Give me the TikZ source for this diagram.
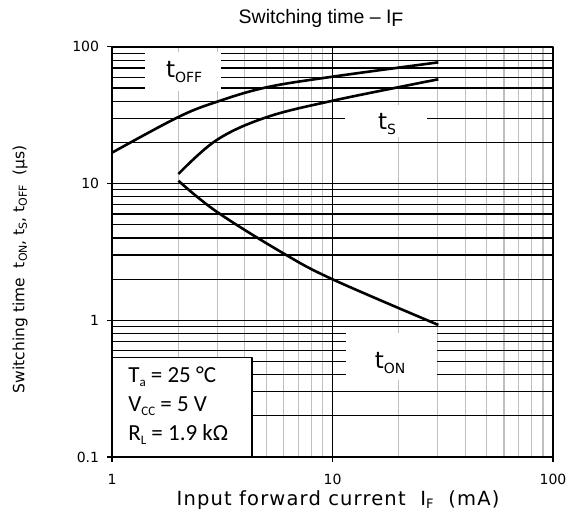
\documentclass[tikz,border=0pt]{standalone}
\usepackage{fontspec}
\usepackage{tikz}
\usetikzlibrary{calc}
\setmainfont{DejaVu Sans}
\newfontfamily\titlefont{Liberation Sans}
\newfontfamily\legfont{Carlito}
\newfontfamily\xlabfont[LetterSpace=6]{DejaVu Sans}
\newcommand{\tlab}[1]{{\fontsize{23}{23}\selectfont t\raisebox{-0.45ex}{\fontsize{14}{14}\selectfont #1}}}
\begin{document}
\begin{tikzpicture}[line cap=butt,line join=round,x=220.5pt,y=136.7pt,
  gridv/.style={line width=1.2pt,color=black!25},
  gridh/.style={line width=1.2pt,color=black},
  curve/.style={line width=2.6pt,color=black},
  ticklab/.style={font=\fontsize{14}{14}\selectfont}]
\useasboundingbox (-112pt,-69pt) rectangle (465pt,457pt);
% grid
\foreach \d in {0,1}
\foreach \m in {2,...,9}
\draw[gridv] ({\d+log10(\m)},0) -- ({\d+log10(\m)},3);
\foreach \d in {0,1,2}
\foreach \m in {2,...,9}
\draw[gridh] (0,{\d+log10(\m)}) -- (2,{\d+log10(\m)});
\draw[line width=1.3pt] (1,0) -- (1,3);
\draw[line width=1.3pt] (0,1) -- (2,1);
\draw[line width=1.3pt] (0,2) -- (2,2);
% label boxes
\fill[white] (0.150,2.677) rectangle (0.494,2.963);
\fill[white] (1.057,2.341) rectangle (1.429,2.575);
\fill[white] (1.061,0.563) rectangle (1.474,0.907);
\node (toff) at (0.327,2.816) {\tlab{OFF}};
\node (ts) at (1.247,2.436) {\tlab{S}};
\node (ton) at (1.261,0.688) {\tlab{ON}};
% frame and ticks
\draw[line width=1.5pt] (0,0) rectangle (2,3);
\foreach \x/\l in {0/1,1/10,2/100}
\draw[line width=1.2pt] (\x,0) -- ([yshift=-5pt]\x,0) node[ticklab,anchor=center,yshift=-17pt] {\l};
\foreach \y/\l in {0/0.1,1/1,2/10,3/100}
\draw[line width=1.2pt] (0,\y) -- ([xshift=-5pt]0,\y) node[ticklab,anchor=east,xshift=-4pt] {\l};
% curves
\draw[curve] plot[smooth,tension=0.6] coordinates {(0,2.226) (0.301,2.487) (0.477,2.599) (0.70,2.704) (1,2.782) (1.48,2.887)};
\draw[curve] plot[smooth,tension=0.6] coordinates {(0.301,2.070) (0.475,2.319) (0.70,2.485) (1,2.606) (1.48,2.763)};
\draw[curve] plot[smooth,tension=0.6] coordinates {(0.301,2.021) (0.475,1.794) (0.777,1.490) (1,1.300) (1.48,0.966)};
% legend
\draw[line width=1.2pt,fill=white] (0,0) rectangle (0.635,0.726);
\node (leg) [anchor=north west,align=left,inner sep=0pt,font=\legfont\fontsize{23}{29}\selectfont] at (0.073,0.665)
 {T\raisebox{-0.45ex}{\fontsize{13}{13}\selectfont a} = 25 °C\\
  V\raisebox{-0.45ex}{\fontsize{13}{13}\selectfont CC} = 5 V\\
  R\raisebox{-0.45ex}{\fontsize{13}{13}\selectfont L} = 1.9 kΩ};
% axis titles
\node (title) at (0.948,3.211) {\titlefont\fontsize{19.5}{19.5}\selectfont Switching time – I\raisebox{-0.3ex}{F}};
\node (xlab) at (1.025,-0.315) {\xlabfont\fontsize{19.5}{19.5}\selectfont Input forward current\ \ I\raisebox{-0.3ex}{\fontsize{13}{13}\selectfont F}\ \ (mA)};
\node (ylab) [rotate=90] at (-0.417,1.375) {\fontsize{15.5}{15.5}\selectfont Switching time\ \ t\raisebox{-0.3ex}{\fontsize{11}{11}\selectfont ON}, t\raisebox{-0.3ex}{\fontsize{11}{11}\selectfont S}, t\raisebox{-0.3ex}{\fontsize{11}{11}\selectfont OFF}\ \ (µs)};
\end{tikzpicture}
\end{document}
